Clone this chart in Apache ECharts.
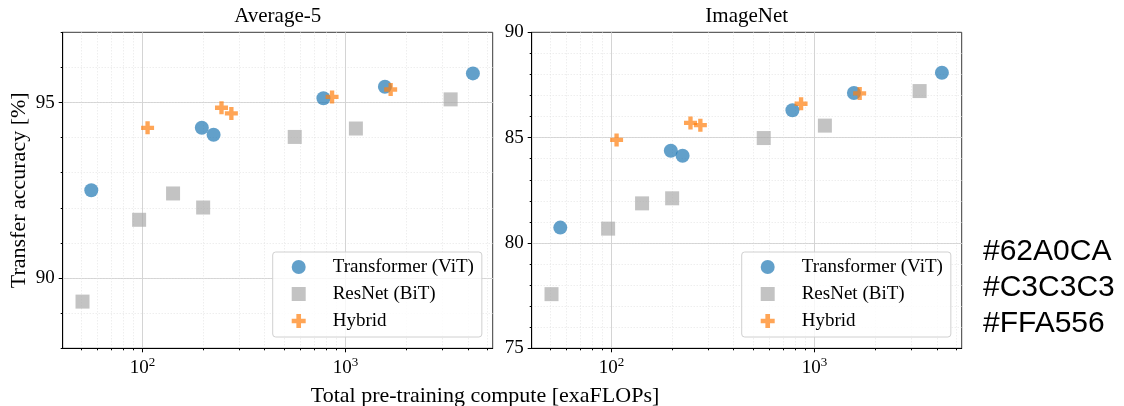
<!DOCTYPE html>
<html>
<head>
<meta charset="utf-8">
<script src="https://cdn.jsdelivr.net/npm/echarts@6/dist/echarts.min.js"></script>
<style>
  html, body { margin: 0; padding: 0; background: #fff; }
  #chart { width: 1124px; height: 406px; }
</style>
</head>
<body>
<div id="chart"></div>
<script>
// compute [exaFLOPs] per model family
var vitCompute = [56, 196, 224, 778, 1562, 4235];
var bitCompute = [50.7, 96.3, 141.5, 199, 562, 1124, 3290];
var hybridCompute = [106, 245, 274, 858, 1667];

// transfer accuracy [%]
var vitAvg5 = [92.50, 94.28, 94.08, 95.12, 95.45, 95.83];
var bitAvg5 = [89.33, 91.66, 92.41, 92.01, 94.02, 94.26, 95.09];
var hybridAvg5 = [94.28, 94.85, 94.69, 95.16, 95.37];

var vitImageNet = [80.73, 84.38, 84.14, 86.30, 87.12, 88.08];
var bitImageNet = [77.57, 80.68, 81.88, 82.12, 84.98, 85.57, 87.21];
var hybridImageNet = [84.89, 85.70, 85.59, 86.61, 87.10];

// ticks
var xMajorTicks = [100, 1000];
var xMinorTicks = [50, 60, 70, 80, 90, 200, 300, 400, 500, 600, 700, 800, 900, 2000, 3000, 4000, 5000];
var avg5MajorTicks = [90, 95];
var avg5MinorTicks = [88, 89, 90, 91, 92, 93, 94, 95, 96, 97];
var inMajorTicks = [75, 80, 85, 90];
var inMinorTicks = [75, 76, 77, 78, 79, 80, 81, 82, 83, 84, 85, 86, 87, 88, 89, 90];

var names = ['Transformer (ViT)', 'ResNet (BiT)', 'Hybrid'];
var colors = ['#1f77b4', '#a9a9a9', '#ff7f0e'];
var symbols = ['circle', 'rect', 'path://M-1,-3H1V-1H3V1H1V3H-1V1H-3V-1H-1Z'];
var sizes = [14, 14, 13];

var SERIF = 'Liberation Serif';
var XMIN = 40.5, XMAX = 5300;

function zip(xs, ys) {
  return xs.map(function (x, i) { return [x, ys[i]]; });
}

// grid lines sitting on the frame are skipped so the frame stays dark
function split(ticks, min, max, style) {
  return {
    show: true,
    showMinLine: ticks[0] !== min,
    showMaxLine: ticks[ticks.length - 1] !== max,
    lineStyle: style
  };
}

var majorGrid = { color: '#d4d4d4', width: 1 };
var minorGrid = { color: '#e0e0e0', width: 0.8, type: [1, 2] };

function xAxes(grid) {
  return [{
    type: 'log', gridIndex: grid, min: XMIN, max: XMAX, position: 'bottom',
    axisLine: { show: true, lineStyle: { color: '#000', width: 1 } },
    axisTick: { show: true, length: 4, lineStyle: { color: '#000' }, customValues: xMajorTicks },
    axisLabel: {
      customValues: xMajorTicks, margin: 8, color: '#000',
      fontFamily: SERIF, fontSize: 19,
      formatter: function (v) { return '10{sup|' + Math.round(Math.log10(v)) + '}'; },
      rich: { sup: { fontSize: 13, fontFamily: SERIF, color: '#000', padding: [0, 0, 10, 0] } }
    },
    splitLine: split(xMajorTicks, XMIN, XMAX, majorGrid)
  }, {
    type: 'log', gridIndex: grid, min: XMIN, max: XMAX, position: 'bottom',
    axisLine: { show: false },
    axisTick: { show: true, length: 2, lineStyle: { color: '#000' }, customValues: xMinorTicks },
    axisLabel: { show: false },
    splitLine: split(xMinorTicks, XMIN, XMAX, minorGrid)
  }];
}

function yAxes(grid, min, max, major, minor, name) {
  return [{
    type: 'value', gridIndex: grid, min: min, max: max, position: 'left',
    name: name, nameLocation: 'middle', nameGap: 32,
    nameTextStyle: { fontFamily: SERIF, fontSize: 22, color: '#000' },
    axisLine: { show: true, lineStyle: { color: '#000', width: 1 } },
    axisTick: { show: true, length: 4, lineStyle: { color: '#000' }, customValues: major },
    axisLabel: { customValues: major, margin: 8, color: '#000', fontFamily: SERIF, fontSize: 19 },
    splitLine: split(major, min, max, majorGrid)
  }, {
    type: 'value', gridIndex: grid, min: min, max: max, position: 'left',
    axisLine: { show: false },
    axisTick: { show: true, length: 2, lineStyle: { color: '#000' }, customValues: minor },
    axisLabel: { show: false },
    splitLine: split(minor, min, max, minorGrid)
  }];
}

function scatter(k, xi, yi, data) {
  return {
    name: names[k], type: 'scatter', xAxisIndex: xi, yAxisIndex: yi,
    symbol: symbols[k], symbolSize: sizes[k], z: 3 + k,
    itemStyle: { color: colors[k], opacity: 0.7 },
    emphasis: { disabled: true },
    data: data
  };
}

function legend(left) {
  return {
    left: left, top: 252, orient: 'vertical',
    data: names,
    itemWidth: 14, itemHeight: 14, itemGap: 7,
    padding: [5, 8, 6, 19],
    borderColor: '#d0d0d0', borderWidth: 1, borderRadius: 3,
    backgroundColor: 'rgba(255,255,255,0.8)',
    textStyle: { fontFamily: SERIF, fontSize: 19, color: '#000', lineHeight: 20, padding: [0, 0, 0, 22] }
  };
}

var chart = echarts.init(document.getElementById('chart'), null, { renderer: 'canvas' });

var titleStyle = { fontFamily: SERIF, fontSize: 21, fontWeight: 'normal', color: '#000' };
var xNameStyle = { fontFamily: SERIF, fontSize: 22, fontWeight: 'normal', color: '#000' };

chart.setOption({
  animation: false,
  backgroundColor: '#fff',
  title: [
    { text: 'Average-5', left: 277.7, top: 6, textAlign: 'center', padding: 0, textStyle: titleStyle },
    { text: 'ImageNet', left: 746.7, top: 6, textAlign: 'center', padding: 0, textStyle: titleStyle },
    { text: 'Total pre-training compute [exaFLOPs]', left: 485, top: 385, textAlign: 'center', padding: 0, textStyle: xNameStyle }
  ],
  grid: [
    { left: 62.7, top: 32.3, width: 430, height: 316, show: true, borderColor: '#3a3a3a', borderWidth: 1 },
    { left: 531.7, top: 32.3, width: 430, height: 316, show: true, borderColor: '#3a3a3a', borderWidth: 1 }
  ],
  xAxis: xAxes(0).concat(xAxes(1)),
  yAxis: yAxes(0, 88, 97, avg5MajorTicks, avg5MinorTicks, 'Transfer accuracy [%]')
    .concat(yAxes(1, 75, 90, inMajorTicks, inMinorTicks, '')),
  legend: [legend(272.7), legend(741.7)],
  series: [
    scatter(0, 0, 0, zip(vitCompute, vitAvg5)),
    scatter(1, 0, 0, zip(bitCompute, bitAvg5)),
    scatter(2, 0, 0, zip(hybridCompute, hybridAvg5)),
    scatter(0, 2, 2, zip(vitCompute, vitImageNet)),
    scatter(1, 2, 2, zip(bitCompute, bitImageNet)),
    scatter(2, 2, 2, zip(hybridCompute, hybridImageNet))
  ],
  graphic: [{
    type: 'text', left: 983, top: 234,
    style: {
      text: '#62A0CA\n#C3C3C3\n#FFA556',
      font: '30px "Liberation Sans"', fill: '#000', lineHeight: 36
    }
  }]
});
</script>
</body>
</html>
